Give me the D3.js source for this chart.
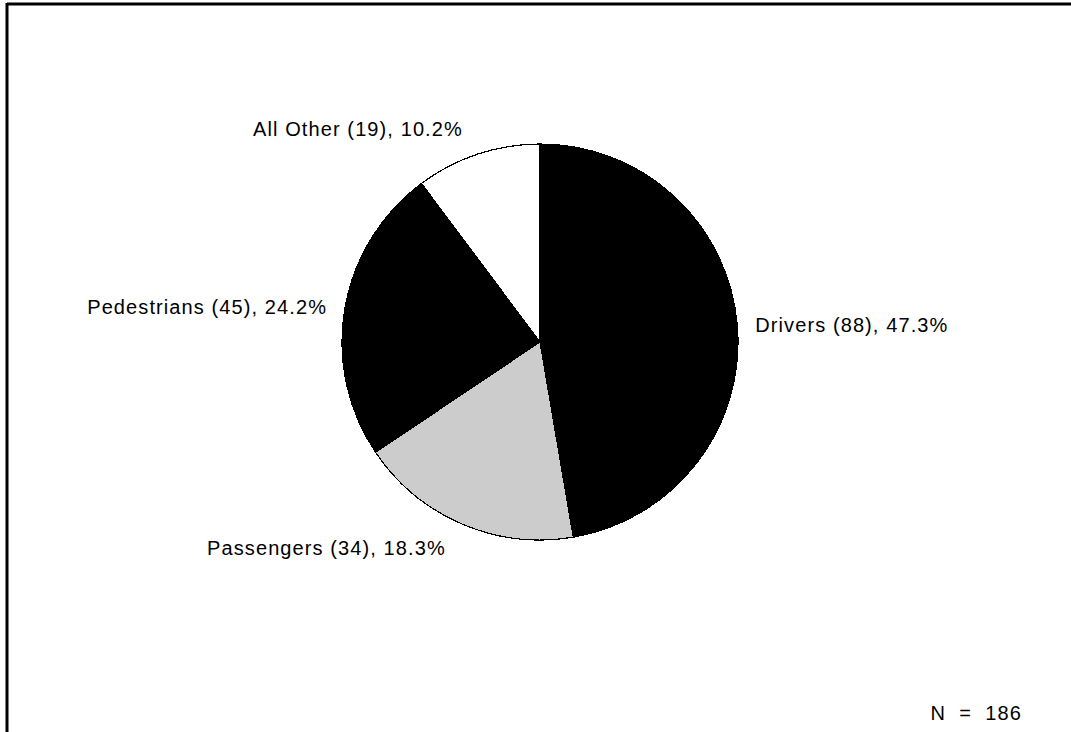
<!DOCTYPE html>
<html>
<head>
<meta charset="utf-8">
<script src="https://cdn.jsdelivr.net/npm/d3@7"></script>
<style>
  html, body { margin: 0; padding: 0; background: #fff; }
  svg { display: block; }
  text { font-family: "Liberation Sans", Arial, sans-serif; font-size: 20px; letter-spacing: 1.1px; fill: #000; white-space: pre; }
</style>
</head>
<body>
<svg id="chart" width="1071" height="732"></svg>
<script>
// Fatalities by person type
const categories = ["Drivers", "Passengers", "Pedestrians", "All Other"];
const counts = [88, 34, 45, 19];
const percents = ["47.3", "18.3", "24.2", "10.2"];
const fills = ["#000000", "#cccccc", "#000000", "#ffffff"];
const totalLabel = "N  =  186";

const width = 1071, height = 732;
const cx = 540, cy = 342, radius = 198;

const svg = d3.select("#chart");

// frame lines on top and left
svg.append("line").attr("x1", 7).attr("y1", 4).attr("x2", width).attr("y2", 4)
  .attr("stroke", "#000").attr("stroke-width", 3);
svg.append("line").attr("x1", 7).attr("y1", 3).attr("x2", 7).attr("y2", height)
  .attr("stroke", "#000").attr("stroke-width", 3);

const data = categories.map((c, i) => ({ name: c, count: counts[i], pct: percents[i], fill: fills[i] }));

const pie = d3.pie().value(d => d.count).sort(null);
const arc = d3.arc().innerRadius(0).outerRadius(radius);
const arcs = pie(data);

const g = svg.append("g").attr("transform", `translate(${cx},${cy})`);

g.selectAll("path.slice")
  .data(arcs)
  .join("path")
  .attr("class", "slice")
  .attr("d", arc)
  .attr("fill", d => d.data.fill)
  .attr("stroke", "#000")
  .attr("stroke-width", 1.2)
  .attr("shape-rendering", "crispEdges");

// labels placed outside the slices
const labelArc = d3.arc().innerRadius(216).outerRadius(216);
const labelShift = { "Drivers": [0, 8], "Passengers": [-9, 15], "Pedestrians": [0, 8], "All Other": [-9, -1] };

g.selectAll("text.label")
  .data(arcs)
  .join("text")
  .attr("class", "label")
  .attr("x", d => labelArc.centroid(d)[0] + labelShift[d.data.name][0])
  .attr("y", d => labelArc.centroid(d)[1] + labelShift[d.data.name][1])
  .attr("text-anchor", d => ((d.startAngle + d.endAngle) / 2 < Math.PI ? "start" : "end"))
  .text(d => `${d.data.name} (${d.data.count}), ${d.data.pct}%`);

svg.append("text")
  .attr("x", 1022)
  .attr("y", 720)
  .attr("text-anchor", "end")
  .text(totalLabel);
</script>
</body>
</html>
